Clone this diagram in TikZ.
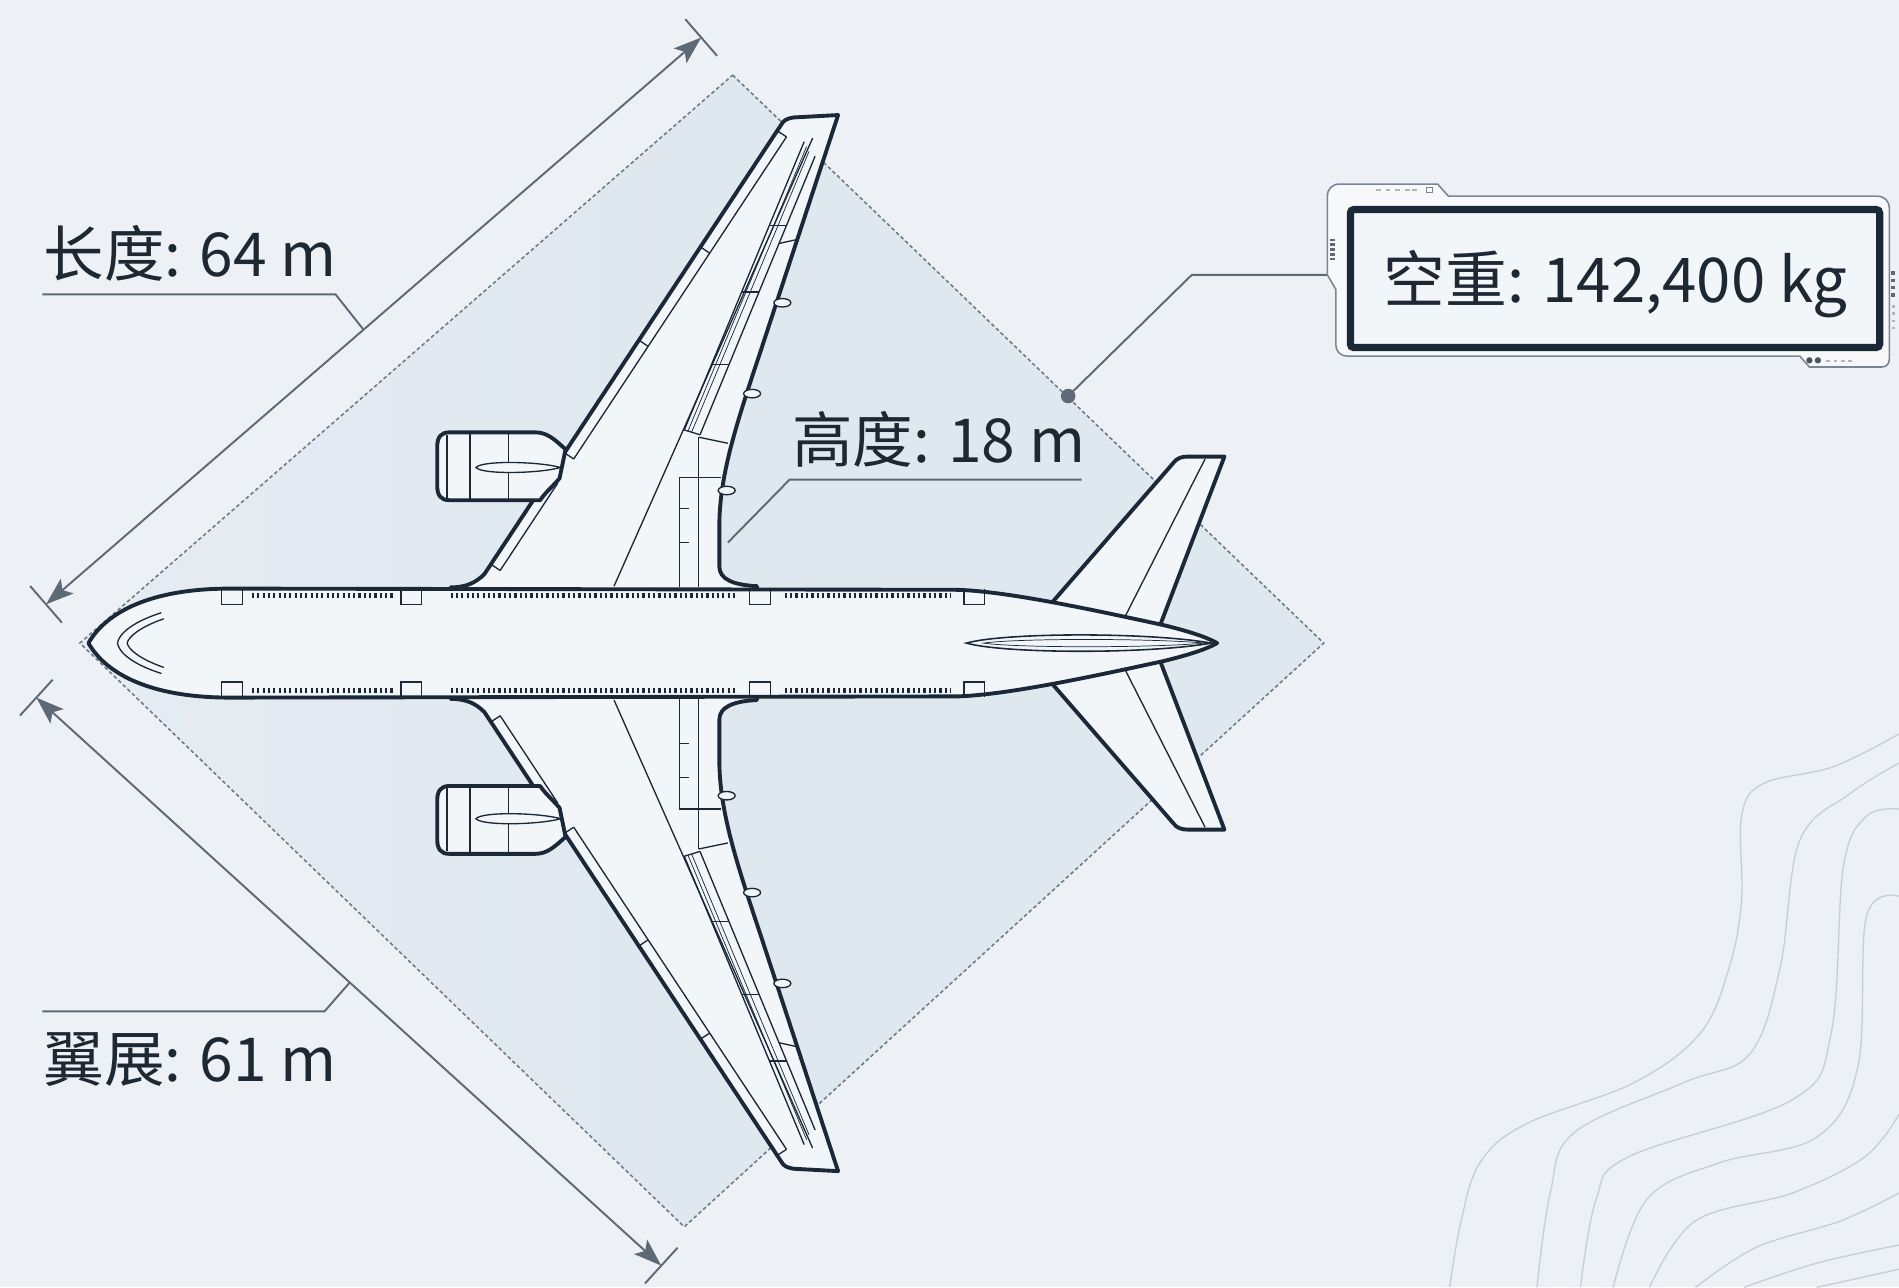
\documentclass[tikz,border=0pt]{standalone}
\usepackage{fontspec}
\setmainfont{Noto Sans CJK SC}
\usetikzlibrary{arrows.meta}

\definecolor{bgc}{HTML}{EDF1F5}
\definecolor{zonec}{HTML}{DFE7EF}
\definecolor{zonelight}{HTML}{E6ECF2}
\definecolor{ink}{HTML}{1A2838}
\definecolor{skin}{HTML}{F3F6F9}
\definecolor{dimc}{HTML}{5D6975}
\definecolor{dashc}{HTML}{6E7A87}
\definecolor{topo}{HTML}{C6CED6}
\definecolor{txt}{HTML}{1E2833}
\definecolor{framec}{HTML}{7A8693}
\definecolor{cardc}{HTML}{F6F8FA}

\tikzset{
  hull/.style={draw=ink, line width=3.2pt, fill=skin, line join=round},
  detail/.style={draw=ink, line width=1.1pt},
  hatch/.style={draw=ink, line width=0.6pt},
  dimline/.style={draw=dimc, line width=1.6pt},
  dimarrows/.style={dimline, {Stealth[length=23pt,width=16pt,inset=5pt]}-{Stealth[length=23pt,width=16pt,inset=5pt]}},
  leader/.style={draw=dimc, line width=1.6pt},
  zoneedge/.style={draw=dashc, line width=1.3pt, dash pattern=on 3pt off 2.2pt},
  contour/.style={draw=topo, line width=1.1pt},
  dimtext/.style={text=txt, font=\fontsize{50}{58}\selectfont, inner sep=0pt, anchor=base west},
  windows/.style={draw=ink, line width=4pt, dash pattern=on 1.8pt off 2.6pt},
}

% one side of the airframe, y measured from the fuselage axis (negative = upper side)
\newcommand\halfairframe{%
  % tailplane
  \draw[hull] (870,-5) -- (870,-35) -- (969,-149) .. controls (972,-153) and (976,-154) .. (981,-154)
     -- (1011,-154) -- (958,-15) -- (958,-5) -- cycle;
  \draw[detail] (995,-152) -- (929,-22);
  % main wing
  \draw[hull] (372,-30) -- (372,-46) .. controls (385,-46) and (393,-50) .. (400,-57)
     -- (645,-428) .. controls (647,-432) and (650,-433) .. (655,-434) -- (692,-436)
     -- (628,-241) .. controls (608,-181) and (595,-141) .. (594,-101) -- (594,-63)
     .. controls (594,-53) and (605,-48) .. (625,-47) -- (625,-30) -- cycle;
  % spar line
  \draw[detail] (507,-47) -- (671,-417);
  % leading-edge slats
  \draw[detail] (649.4,-418) -- (473.7,-152);
  \draw[detail] (641.7,-423) -- (649.4,-418);
  \draw[detail] (466.1,-157.1) -- (473.7,-152);
  \draw[detail] (578.3,-327.1) -- (586,-322);
  \draw[detail] (527.5,-250.1) -- (535.2,-245);
  \draw[detail] (460.5,-132) -- (413,-60);
  \draw[detail] (452.8,-137.1) -- (460.5,-132);
  \draw[detail] (405.3,-65.1) -- (413,-60);
  % outboard flaps and aileron
  \draw[detail] (565,-176) -- (664,-414);
  \draw[hatch] (568,-175) -- (666,-410);
  \draw[hatch] (571,-174) -- (668,-406);
  \draw[detail] (578,-172) -- (673,-402);
  \draw[detail] (565,-176) -- (578,-172);
  \draw[detail] (587.5,-230) -- (601.9,-230);
  \draw[detail] (612.4,-290) -- (626.7,-290);
  \draw[detail] (635.3,-345) -- (648.6,-345);
  \draw[detail] (643.3,-330) -- (657,-333);
  % inboard flap
  \draw[detail] (561,-137) -- (561,-46);
  \draw[detail] (577,-170) -- (577,-46);
  \draw[detail] (561,-137) -- (595,-137);
  \draw[detail] (561,-111) -- (569,-111);
  \draw[detail] (561,-83) -- (569,-83);
  \draw[detail] (577,-170) -- (601,-165);
  % flap track fairings
  \draw[detail, fill=skin] (646,-281) ellipse [x radius=7, y radius=3.5];
  \draw[detail, fill=skin] (621,-206) ellipse [x radius=7, y radius=3.5];
  \draw[detail, fill=skin] (600,-126) ellipse [x radius=7, y radius=3.5];
  % engine nacelle
  \draw[hull] (371,-174) -- (442,-174) .. controls (452,-174) and (458,-168) .. (467,-160)
     -- (462,-136) .. controls (455,-128) and (450,-124) .. (446,-118) -- (371,-118)
     .. controls (364,-118) and (361,-122) .. (361,-130) -- (361,-162)
     .. controls (361,-170) and (364,-174) .. (371,-174) -- cycle;
  \draw[detail] (369,-172) -- (369,-120);
  \draw[detail] (388,-174) -- (388,-118);
  \draw[detail] (420,-174) -- (420,-118);
  \draw[detail, fill=skin] (393,-145) .. controls (398,-151) and (445,-150) .. (463,-145)
     .. controls (445,-140) and (398,-139) .. (393,-145) -- cycle;
}

\begin{document}
\begin{tikzpicture}[x=1pt,y=-1pt]
\useasboundingbox (0,0) rectangle (1568,1063);
\fill[bgc] (0,0) rectangle (1568,1063);

% terrain contours, lower right
\draw[contour] plot[smooth, tension=0.6] coordinates {(1197,1063) (1206,1010) (1222,960) (1260,928) (1349,894) (1404,853) (1428,798) (1438,743) (1438,674) (1456,647) (1514,633) (1568,606)};
\draw[contour] plot[smooth, tension=0.6] coordinates {(1269,1063) (1280,985) (1300,935) (1390,894) (1445,870) (1470,798) (1486,694) (1528,655) (1568,630)};
\draw[contour] plot[smooth, tension=0.6] coordinates {(1305,1063) (1318,990) (1345,955) (1480,908) (1512,853) (1522,716) (1541,674) (1568,668)};
\draw[contour] plot[smooth, tension=0.6] coordinates {(1332,1063) (1360,990) (1420,960) (1500,939) (1534,881) (1541,757) (1568,740)};
\draw[contour] plot[smooth, tension=0.6] coordinates {(1362,1063) (1400,1008) (1480,985) (1540,955) (1568,920)};
\draw[contour] plot[smooth, tension=0.6] coordinates {(1400,1063) (1450,1030) (1520,1008) (1568,985)};
\draw[contour] plot[smooth, tension=0.6] coordinates {(1440,1063) (1500,1043) (1568,1028)};
\draw[contour] plot[smooth, tension=0.6] coordinates {(1500,1063) (1568,1048)};

% footprint zone
\shade[left color=zonelight, right color=zonec, middle color=zonec] (605,62) -- (1093,531) -- (565,1013) -- (66,531) -- cycle;
\draw[zoneedge] (605,62) -- (1093,531) -- (565,1013) -- (66,531) -- cycle;

% length dimension
\coordinate (lenA) at (38,499);
\coordinate (lenB) at (579,31);
\draw[dimarrows] (lenA) -- (lenB);
\coordinate (lenA1) at (24.9,483.9); \coordinate (lenA2) at (51.1,514.1);
\coordinate (lenB1) at (565.9,15.9); \coordinate (lenB2) at (592.1,46.1);
\draw[dimline] (lenA1) -- (lenA2);
\draw[dimline] (lenB1) -- (lenB2);

% span dimension
\coordinate (spanA) at (30,576);
\coordinate (spanB) at (546,1045);
\draw[dimarrows] (spanA) -- (spanB);
\coordinate (spanA1) at (16.5,590.8); \coordinate (spanA2) at (43.5,561.2);
\coordinate (spanB1) at (532.5,1059.8); \coordinate (spanB2) at (559.5,1030.2);
\draw[dimline] (spanA1) -- (spanA2);
\draw[dimline] (spanB1) -- (spanB2);

% labels and leaders
\node[dimtext] (lenlab) at (36,228) {长度: 64 m};
\coordinate (lenU) at (35,243); \coordinate (lenK) at (277,243); \coordinate (lenE) at (300,272);
\draw[leader] (lenU) -- (lenK) -- (lenE);

\node[dimtext] (spanlab) at (36,893) {翼展: 61 m};
\coordinate (spanU) at (35,835); \coordinate (spanK) at (268,835); \coordinate (spanE) at (289,811);
\draw[leader] (spanU) -- (spanK) -- (spanE);

\node[dimtext] (htlab) at (654,382) {高度: 18 m};
\coordinate (htU) at (893,396); \coordinate (htK) at (652,396); \coordinate (htE) at (601,448);
\draw[leader] (htU) -- (htK) -- (htE);

% weight card
\coordinate (wtDot) at (882,327); \coordinate (wtK) at (984,227); \coordinate (wtE) at (1096,227);
\draw[leader] (wtDot) -- (wtK) -- (wtE);
\fill[dimc] (wtDot) circle (6);

\draw[draw=framec, line width=1.3pt, fill=cardc]
  (1106,152) -- (1187,152) -- (1196,162) -- (1550,162) .. controls (1556,162) and (1560,166) .. (1560,172)
  -- (1560,296) .. controls (1560,300) and (1558,303) .. (1554,303) -- (1494,303) -- (1486,294)
  -- (1112,294) .. controls (1107,294) and (1103,290) .. (1103,285) -- (1103,239) -- (1096,227)
  -- (1096,162) .. controls (1096,156) and (1100,152) .. (1106,152) -- cycle;
% small frame marks
\foreach \yy in {197,201,205,209,213} \fill[ink!70] (1098.5,\yy) rectangle (1102.5,\yy+2);
\foreach \xx in {1136,1144,1152,1160,1166} \fill[framec!60] (\xx,156) rectangle (\xx+4,157.5);
\draw[framec, line width=1pt] (1178,154.5) rectangle (1183,159);
\fill[ink!80] (1494,297.5) circle (2.6);
\fill[ink!80] (1501,297.5) circle (2.6);
\foreach \xx in {1508,1514,1520,1526} \fill[framec!60] (\xx,297) rectangle (\xx+3,298.5);
\foreach \yy in {224,230,236,242} \fill[ink!70] (1561.5,\yy) rectangle (1565,\yy+3);
\foreach \yy in {252,258,264,270} \fill[framec!60] (1562,\yy) rectangle (1564.5,\yy+2);

\draw[draw=ink, line width=6pt, fill=skin, rounded corners=3pt] (1115,173) rectangle (1552,287);
\node[text=txt, font=\fontsize{51}{59}\selectfont, inner sep=0pt, anchor=base] (wtlab) at (1334,250) {空重: 142,400 kg};

% airframe
\begin{scope}[shift={(0,531)}]
  \halfairframe
\end{scope}
\begin{scope}[shift={(0,531)}, yscale=-1]
  \halfairframe
\end{scope}

% fuselage
\draw[hull] (73,531) .. controls (88,505) and (125,486) .. (190,486) -- (790,487)
   .. controls (830,488) and (900,503) .. (960,516) .. controls (985,522) and (998,527) .. (1005,531)
   .. controls (998,535) and (985,540) .. (960,546) .. controls (900,559) and (830,574) .. (790,575)
   -- (190,576) .. controls (125,576) and (88,557) .. (73,531) -- cycle;
% doors
\foreach \xx in {183,331,619,796} {
  \draw[detail] (\xx,486.5) -- (\xx,499) -- (\xx+17,499) -- (\xx+17,486.5);
  \draw[detail] (\xx,575.5) -- (\xx,563) -- (\xx+17,563) -- (\xx+17,575.5);
}
% cabin windows
\draw[windows] (208,492) -- (325,492);
\draw[windows] (372,492) -- (608,492);
\draw[windows] (648,492) -- (785,492);
\draw[windows] (208,570) -- (325,570);
\draw[windows] (372,570) -- (608,570);
\draw[windows] (648,570) -- (785,570);
% windshield
\draw[detail, line cap=round] (133,506) .. controls (108,514) and (98,524) .. (97,531) .. controls (98,538) and (108,548) .. (133,556);
\draw[detail, line cap=round] (135,511) .. controls (115,518) and (106,526) .. (105,531) .. controls (106,536) and (115,544) .. (135,551);
% tail cone fairing
\draw[detail, line width=1.3pt] (798,531) .. controls (830,522) and (950,522) .. (1000,531) .. controls (950,540) and (830,540) .. (798,531) -- cycle;
\draw[hatch] (812,531) .. controls (840,527) and (950,527) .. (995,531) .. controls (950,535) and (840,535) .. (812,531) -- cycle;
\end{tikzpicture}
\end{document}
